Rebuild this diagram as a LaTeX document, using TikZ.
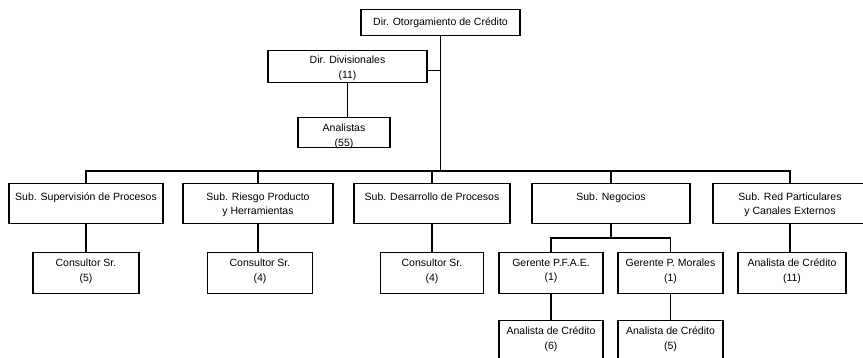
\documentclass[tikz,border=0pt]{standalone}
\usepackage{fontspec}
\setmainfont{Liberation Sans}
\begin{document}
\begin{tikzpicture}[x=1pt,y=-1pt]
\tikzset{
  box/.style={draw, line width=1.1pt, inner sep=0pt, anchor=north},
  lvtwo/.style={minimum height=40pt},
  lvthree/.style={minimum height=41pt},
  lbl/.style={anchor=north, inner sep=0pt, align=center, font=\fontsize{10.5}{14.4}\selectfont},
  conn/.style={line width=1.1pt}
}
\useasboundingbox (0,0) rectangle (863,358);
\clip (0,0) rectangle (863,358);
% top levels
\node[box, minimum width=159pt, minimum height=26pt, label={[lbl,yshift=-8.5pt]north:{Dir. Otorgamiento de Crédito}}] (top) at (440.5,9) {};
\node[box, minimum width=159pt, minimum height=32pt, label={[lbl,yshift=-6pt]north:{Dir. Divisionales\\(11)}}] (dd) at (347.5,50) {};
\node[box, minimum width=92pt, minimum height=30pt, label={[lbl,yshift=-7pt]north:{Analistas\\(55)}}] (an) at (344,117) {};
% level 2
\node[box, lvtwo, minimum width=154pt, label={[lbl,yshift=-9.5pt]north:{Sub. Supervisión de Procesos}}] (s1) at (86,183) {};
\node[box, lvtwo, minimum width=150pt, label={[lbl,yshift=-9.5pt]north:{Sub. Riesgo Producto\\y Herramientas}}] (s2) at (258,183) {};
\node[box, lvtwo, minimum width=156pt, label={[lbl,yshift=-9.5pt]north:{Sub. Desarrollo de Procesos}}] (s3) at (432,183) {};
\node[box, lvtwo, minimum width=158pt, label={[lbl,yshift=-9.5pt]north:{Sub. Negocios}}] (s4) at (611,183) {};
\node[box, lvtwo, minimum width=154pt, label={[lbl,yshift=-9.5pt]north:{Sub. Red Particulares\\y Canales Externos}}] (s5) at (790,183) {};
% level 3
\node[box, lvthree, minimum width=106pt, label={[lbl,yshift=-7pt]north:{Consultor Sr.\\(5)}}] (c1) at (86,252) {};
\node[box, lvthree, minimum width=105pt, label={[lbl,yshift=-7pt]north:{Consultor Sr.\\(4)}}] (c2) at (260,252) {};
\node[box, lvthree, minimum width=103pt, label={[lbl,yshift=-7pt]north:{Consultor Sr.\\(4)}}] (c3) at (432,252) {};
\node[box, lvthree, minimum width=104pt, label={[lbl,yshift=-7pt]north:{Gerente P.F.A.E.\\(1)}}] (g1) at (551,252) {};
\node[box, lvthree, minimum width=105pt, label={[lbl,yshift=-7pt]north:{Gerente P. Morales\\(1)}}] (g2) at (670.5,252) {};
\node[box, lvthree, minimum width=108pt, label={[lbl,yshift=-7pt]north:{Analista de Crédito\\(11)}}] (a11) at (792,252) {};
% level 4
\node[box, lvthree, minimum width=104pt, label={[lbl,yshift=-7pt]north:{Analista de Crédito\\(6)}}] (a6) at (551,320) {};
\node[box, lvthree, minimum width=105pt, label={[lbl,yshift=-7pt]north:{Analista de Crédito\\(5)}}] (a5) at (670.5,320) {};
% connectors
\coordinate (bus) at (440.5,171);
\coordinate (nb) at (611,238);
\coordinate (ddj) at ([yshift=-4pt]dd.east);
\draw[conn] (top.south) -- (bus);
\draw[conn] (ddj) -- (ddj -| top.south);
\draw[conn] (dd.south) -- (dd.south |- an.north);
\draw[conn] (s1.north) -- (s1.north |- bus) -- (s5.north |- bus) -- (s5.north);
\foreach \s in {s2,s3,s4} {\draw[conn] (\s.north) -- (\s.north |- bus);}
\draw[conn] (s1.south) -- (s1.south |- c1.north);
\draw[conn] (s2.south) -- (s2.south |- c2.north);
\draw[conn] (s3.south) -- (s3.south |- c3.north);
\draw[conn] (s5.south) -- (s5.south |- a11.north);
\draw[conn] (s4.south) -- (nb);
\draw[conn] (g1.north) -- (g1.north |- nb) -- (g2.north |- nb) -- (g2.north);
\draw[conn] (g1.south) -- (g1.south |- a6.north);
\draw[conn] (g2.south) -- (g2.south |- a5.north);
\end{tikzpicture}
\end{document}
